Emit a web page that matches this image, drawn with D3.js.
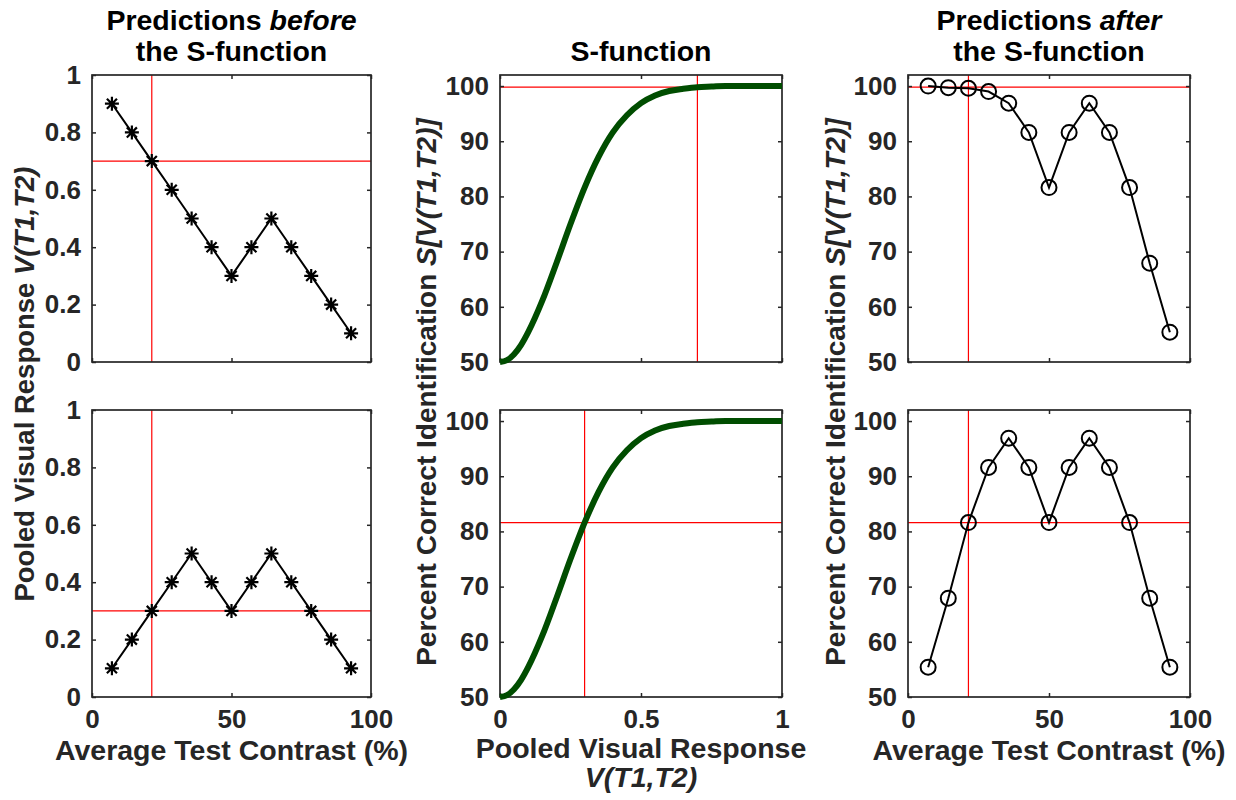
<!DOCTYPE html>
<html>
<head>
<meta charset="utf-8">
<script src="https://cdn.jsdelivr.net/npm/d3@7"></script>
<style>
  body { margin: 0; background: #fff; }
  svg text { font-family: "Liberation Sans", Arial, Helvetica, sans-serif; font-weight: bold; }
</style>
</head>
<body>
<svg id="fig" width="1236" height="800"></svg>
<script>
// average test contrast (%) of the 13 conditions
const contrast = [7.14, 14.29, 21.43, 28.57, 35.71, 42.86, 50, 57.14, 64.29, 71.43, 78.57, 85.71, 92.86];

// pooled visual response, before the S-function
const vTop = [0.9, 0.8, 0.7, 0.6, 0.5, 0.4, 0.3, 0.4, 0.5, 0.4, 0.3, 0.2, 0.1];
const vBottom = [0.1, 0.2, 0.3, 0.4, 0.5, 0.4, 0.3, 0.4, 0.5, 0.4, 0.3, 0.2, 0.1];

// percent correct, after the S-function
const pTop = [100.0, 99.7, 99.6, 99.0, 96.9, 91.6, 81.6, 91.6, 96.9, 91.6, 81.6, 67.9, 55.4];
const pBottom = [55.4, 67.9, 81.6, 91.6, 96.9, 91.6, 81.6, 91.6, 96.9, 91.6, 81.6, 67.9, 55.4];

// S-function
const sV = [0, 0.025, 0.05, 0.075, 0.1, 0.15, 0.2, 0.25, 0.3, 0.35, 0.4, 0.45, 0.5, 0.55, 0.6, 0.65, 0.7, 0.75, 0.8, 0.9, 1];
const sPct = [50, 50.35, 51.4, 53.1, 55.4, 61.1, 67.9, 75.0, 81.6, 87.2, 91.6, 94.7, 96.9, 98.3, 99.1, 99.5, 99.8, 99.9, 100, 100, 100];

// red reference lines [x, y] per panel
const refTop = { left: [21.43, 0.7], mid: [0.7, 99.8], right: [21.43, 99.8] };
const refBottom = { left: [21.43, 0.3], mid: [0.3, 81.6], right: [21.43, 81.6] };

const xTicksContrast = [0, 50, 100];
const xTicksV = [0, 0.5, 1];
const yTicksV = [0, 0.2, 0.4, 0.6, 0.8, 1];
const yTicksPct = [50, 60, 70, 80, 90, 100];

const svg = d3.select("#fig");
const axisColor = "#262626";

const cols = [[92, 371], [500, 782], [908, 1190]];
const rows = [[75, 362], [410, 697]];

function drawPanel(col, row, xDomain, yDomain, xTicks, yTicks, showXLabels, ref) {
  const x = d3.scaleLinear().domain(xDomain).range(col);
  const y = d3.scaleLinear().domain(yDomain).range([row[1], row[0]]);
  const g = svg.append("g");

  // red reference lines
  g.append("line").attr("x1", col[0]).attr("x2", col[1])
    .attr("y1", y(ref[1])).attr("y2", y(ref[1]))
    .attr("stroke", "#ff0000").attr("stroke-width", 1.2);
  g.append("line").attr("y1", row[0]).attr("y2", row[1])
    .attr("x1", x(ref[0])).attr("x2", x(ref[0]))
    .attr("stroke", "#ff0000").attr("stroke-width", 1.2);

  const fmt = d => String(d);
  // axes: ticks inside on all four sides
  const axB = d3.axisBottom(x).tickValues(xTicks).tickSizeInner(-4).tickSizeOuter(0)
    .tickFormat(showXLabels ? fmt : "").tickPadding(13);
  const axT = d3.axisTop(x).tickValues(xTicks).tickSizeInner(-4).tickSizeOuter(0).tickFormat("");
  const axL = d3.axisLeft(y).tickValues(yTicks).tickSizeInner(-4).tickSizeOuter(0)
    .tickFormat(fmt).tickPadding(11);
  const axR = d3.axisRight(y).tickValues(yTicks).tickSizeInner(-4).tickSizeOuter(0).tickFormat("");

  const gB = g.append("g").attr("transform", `translate(0,${row[1]})`).call(axB);
  const gT = g.append("g").attr("transform", `translate(0,${row[0]})`).call(axT);
  const gL = g.append("g").attr("transform", `translate(${col[0]},0)`).call(axL);
  const gR = g.append("g").attr("transform", `translate(${col[1]},0)`).call(axR);
  [gB, gT, gL, gR].forEach(a => {
    a.select(".domain").remove();
    a.selectAll(".tick line").attr("stroke", axisColor).attr("stroke-width", 1.5);
    a.selectAll(".tick text").attr("fill", axisColor).attr("font-size", 26)
      .attr("font-family", "Liberation Sans, Arial, sans-serif").attr("font-weight", "bold");
  });
  gB.selectAll(".tick text").attr("dy", "0.71em");

  g.append("rect").attr("x", col[0]).attr("y", row[0])
    .attr("width", col[1] - col[0]).attr("height", row[1] - row[0])
    .attr("fill", "none").attr("stroke", axisColor).attr("stroke-width", 1.7);

  return { g, x, y };
}

function seriesPanel(col, row, yDomain, yTicks, ys, showX, ref, marker) {
  const p = drawPanel(col, row, [0, 100], yDomain, xTicksContrast, yTicks, showX, ref);
  const pts = contrast.map((c, i) => [c, ys[i]]);
  p.g.append("path").datum(pts)
    .attr("d", d3.line().x(d => p.x(d[0])).y(d => p.y(d[1])))
    .attr("fill", "none").attr("stroke", "#000").attr("stroke-width", 2);
  const m = p.g.selectAll("g.mk").data(pts).join("g").attr("class", "mk")
    .attr("transform", d => `translate(${p.x(d[0])},${p.y(d[1])})`);
  if (marker === "star") {
    const r = 7, q = r * 0.72;
    m.append("path")
      .attr("d", `M${-r},0H${r}M0,${-r}V${r}M${-q},${-q}L${q},${q}M${-q},${q}L${q},${-q}`)
      .attr("stroke", "#000").attr("stroke-width", 2.2).attr("fill", "none");
  } else {
    m.append("circle").attr("r", 7.5)
      .attr("fill", "none").attr("stroke", "#000").attr("stroke-width", 2);
  }
  return p;
}

function sPanel(col, row, showX, ref) {
  const p = drawPanel(col, row, [0, 1], [50, 102], xTicksV, yTicksPct, showX, ref);
  const pts = sV.map((v, i) => [v, sPct[i]]);
  p.g.append("path").datum(pts)
    .attr("d", d3.line().curve(d3.curveMonotoneX).x(d => p.x(d[0])).y(d => p.y(d[1])))
    .attr("fill", "none").attr("stroke", "#004d00").attr("stroke-width", 6)
    .attr("stroke-linecap", "butt");
  return p;
}

seriesPanel(cols[0], rows[0], [0, 1], yTicksV, vTop, false, refTop.left, "star");
seriesPanel(cols[0], rows[1], [0, 1], yTicksV, vBottom, true, refBottom.left, "star");
sPanel(cols[1], rows[0], false, refTop.mid);
sPanel(cols[1], rows[1], true, refBottom.mid);
seriesPanel(cols[2], rows[0], [50, 102], yTicksPct, pTop, false, refTop.right, "circle");
seriesPanel(cols[2], rows[1], [50, 102], yTicksPct, pBottom, true, refBottom.right, "circle");

const cx = c => (c[0] + c[1]) / 2;

// text with optional italic runs
function label(x, y, size, color, parts, rotate) {
  const t = svg.append("text").attr("text-anchor", "middle").attr("font-size", size)
    .attr("fill", color).attr("transform", `translate(${x},${y})` + (rotate ? " rotate(-90)" : ""));
  parts.forEach(pt => {
    const s = t.append("tspan").text(pt.t);
    if (pt.i) s.attr("font-style", "italic");
  });
}

// titles
label(cx(cols[0]), 30, 28.5, "#000", [{ t: "Predictions " }, { t: "before", i: true }]);
label(cx(cols[0]), 61, 28.5, "#000", [{ t: "the S-function" }]);
label(cx(cols[1]), 61, 28.5, "#000", [{ t: "S-function" }]);
label(cx(cols[2]), 30, 28.5, "#000", [{ t: "Predictions " }, { t: "after", i: true }]);
label(cx(cols[2]), 61, 28.5, "#000", [{ t: "the S-function" }]);

// x labels
label(cx(cols[0]), 760, 28.5, axisColor, [{ t: "Average Test Contrast (%)" }]);
label(cx(cols[1]), 758, 28.5, axisColor, [{ t: "Pooled Visual Response" }]);
label(cx(cols[1]), 787, 28.5, axisColor, [{ t: "V(T1,T2)", i: true }]);
label(cx(cols[2]), 760, 28.5, axisColor, [{ t: "Average Test Contrast (%)" }]);

// y labels
label(34, 384, 27.5, axisColor, [{ t: "Pooled Visual Response " }, { t: "V(T1,T2)", i: true }], true);
label(436, 392, 28, axisColor, [{ t: "Percent Correct Identification " }, { t: "S[V(T1,T2)]", i: true }], true);
label(845, 392, 28, axisColor, [{ t: "Percent Correct Identification " }, { t: "S[V(T1,T2)]", i: true }], true);
</script>
</body>
</html>
